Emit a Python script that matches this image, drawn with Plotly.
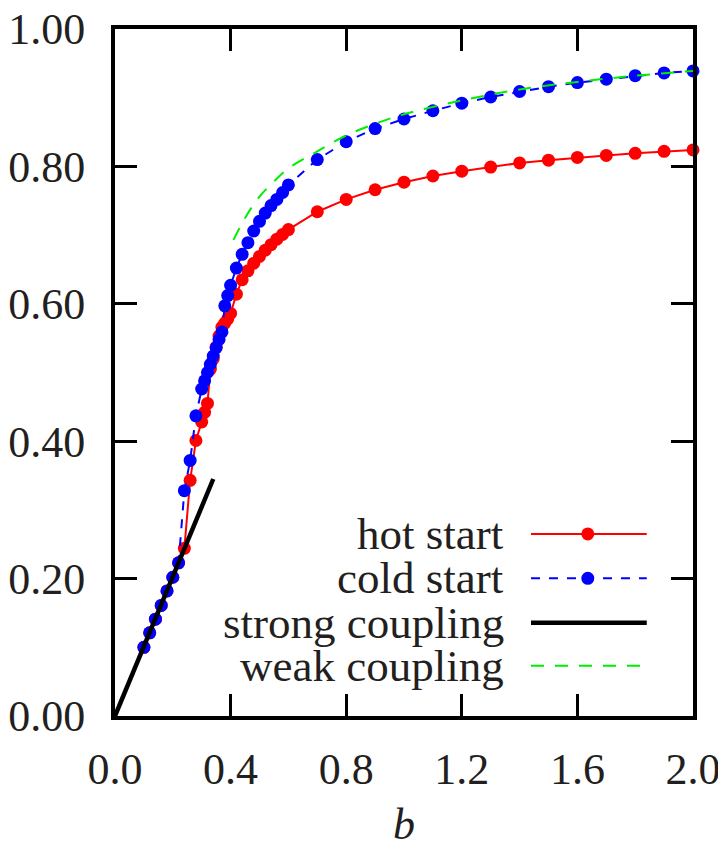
import plotly.graph_objects as go

# ---- data ----
hot_b = [0.10, 0.12, 0.14, 0.16, 0.18, 0.20, 0.22, 0.24, 0.26, 0.28, 0.30, 0.31, 0.32,
         0.33, 0.34, 0.35, 0.36, 0.37, 0.38, 0.39, 0.40, 0.42, 0.44, 0.46, 0.48, 0.50,
         0.52, 0.54, 0.56, 0.58, 0.60, 0.7, 0.8, 0.9, 1.0, 1.1, 1.2, 1.3, 1.4, 1.5,
         1.6, 1.7, 1.8, 1.9, 2.0]
hot_p = [0.100, 0.121, 0.141, 0.161, 0.182, 0.202, 0.223, 0.244, 0.343, 0.401, 0.428, 0.442, 0.455,
         0.505, 0.520, 0.537, 0.553, 0.566, 0.572, 0.578, 0.586, 0.614, 0.635, 0.648, 0.659, 0.669,
         0.678, 0.686, 0.694, 0.701, 0.708, 0.734, 0.752, 0.766, 0.777, 0.786, 0.793, 0.799, 0.805, 0.809,
         0.813, 0.816, 0.819, 0.822, 0.824]

cold_b = [0.10, 0.12, 0.14, 0.16, 0.18, 0.20, 0.22, 0.24, 0.26, 0.28, 0.30, 0.31, 0.32,
          0.33, 0.34, 0.35, 0.36, 0.37, 0.38, 0.39, 0.40, 0.42, 0.44, 0.46, 0.48, 0.50,
          0.52, 0.54, 0.56, 0.58, 0.60, 0.7, 0.8, 0.9, 1.0, 1.1, 1.2, 1.3, 1.4, 1.5,
          1.6, 1.7, 1.8, 1.9, 2.0]
cold_p = [0.100, 0.121, 0.141, 0.161, 0.182, 0.202, 0.223, 0.328, 0.372, 0.437, 0.476, 0.488, 0.500,
          0.512, 0.524, 0.536, 0.548, 0.559, 0.597, 0.612, 0.627, 0.652, 0.672, 0.689, 0.706, 0.720,
          0.732, 0.743, 0.752, 0.762, 0.773, 0.810, 0.836, 0.855, 0.869, 0.881, 0.892, 0.901, 0.909, 0.916,
          0.922, 0.927, 0.932, 0.936, 0.939]

strong_b = [0.0, 0.34]
strong_p = [0.0, 0.345]

weak_b = [0.41, 0.45, 0.50, 0.55, 0.60, 0.70, 0.80, 0.90, 1.0, 1.2, 1.4, 1.6, 1.8, 2.0]
weak_p = [0.693, 0.725, 0.756, 0.778, 0.797, 0.822, 0.845, 0.862, 0.876, 0.896, 0.912, 0.923, 0.932, 0.939]

x_ticks = [0.0, 0.4, 0.8, 1.2, 1.6, 2.0]
y_ticks = [0.0, 0.2, 0.4, 0.6, 0.8, 1.0]

legend_names = ["hot start", "cold start", "strong coupling", "weak coupling"]
x_title = "<i>b</i>"

RED = "#ff0000"
BLUE = "#0000ff"
BLACK = "#000000"
GREEN = "#00ee00"
TXT = "#231f20"
FONT = "Liberation Serif"

fig = go.Figure()
fig.add_trace(go.Scatter(x=hot_b, y=hot_p, mode="lines+markers", name=legend_names[0],
                         line=dict(color=RED, width=2),
                         marker=dict(color=RED, size=13), cliponaxis=False))
fig.add_trace(go.Scatter(x=cold_b, y=cold_p, mode="lines+markers", name=legend_names[1],
                         line=dict(color=BLUE, width=2, dash="9px,9px"),
                         marker=dict(color=BLUE, size=13), cliponaxis=False))
fig.add_trace(go.Scatter(x=strong_b, y=strong_p, mode="lines", name=legend_names[2],
                         line=dict(color=BLACK, width=4.5)))
fig.add_trace(go.Scatter(x=weak_b, y=weak_p, mode="lines", name=legend_names[3],
                         line=dict(color=GREEN, width=2, dash="13px,11px", shape="spline")))

# ---- manual legend (text right, sample on the right) ----
leg_y = [0.265, 0.2004, 0.1358, 0.0732]
lx0, lx1, lmark, ltext = 0.7197, 0.920, 0.818, 0.676
styles = [dict(color=RED, width=2), dict(color=BLUE, width=2, dash="9px,9px"),
          dict(color=BLACK, width=4.5), dict(color=GREEN, width=2, dash="13px,11px")]
shapes = []
annotations = []
for i, (name, yy, st) in enumerate(zip(legend_names, leg_y, styles)):
    shapes.append(dict(type="line", xref="paper", yref="paper", x0=lx0, x1=lx1, y0=yy, y1=yy, line=st))
    annotations.append(dict(xref="paper", yref="paper", x=ltext, y=yy, text=name, showarrow=False,
                            xanchor="right", yanchor="middle",
                            font=dict(family=FONT, size=45, color=TXT)))
for yy, col in [(leg_y[0], RED), (leg_y[1], BLUE)]:
    shapes.append(dict(type="circle", xref="paper", yref="paper", xsizemode="pixel", ysizemode="pixel",
                       xanchor=lmark, yanchor=yy, x0=-6.5, x1=6.5, y0=-6.5, y1=6.5,
                       fillcolor=col, line=dict(color=col, width=0)))

# x-axis title placed as an annotation below the tick labels
annotations.append(dict(xref="paper", yref="paper", x=0.5, y=0, text=x_title, showarrow=False,
                        xanchor="center", yanchor="middle", yshift=-108,
                        font=dict(family=FONT, size=44, color=TXT)))

fig.update_layout(
    width=710, height=838,
    margin=dict(l=107, r=25, t=21, b=130, autoexpand=False),
    paper_bgcolor="white", plot_bgcolor="white",
    showlegend=False,
    shapes=shapes, annotations=annotations,
    font=dict(family=FONT, color=TXT),
)
fig.update_xaxes(range=[0, 2.0], tickvals=x_ticks, tickformat=".1f", automargin=False,
                 ticklabeloverflow="allow",
                 showgrid=False, zeroline=False,
                 showline=True, linecolor=BLACK, linewidth=4, mirror="ticks",
                 ticks="inside", ticklen=22, tickwidth=3, tickcolor=BLACK,
                 tickfont=dict(family=FONT, size=44, color=TXT), ticklabelstandoff=11)
fig.update_yaxes(range=[0, 1.0], tickvals=y_ticks, tickformat=".2f", automargin=False,
                 ticklabeloverflow="allow",
                 showgrid=False, zeroline=False,
                 showline=True, linecolor=BLACK, linewidth=4, mirror="ticks",
                 ticks="inside", ticklen=22, tickwidth=3, tickcolor=BLACK,
                 tickfont=dict(family=FONT, size=44, color=TXT), ticklabelstandoff=17)

fig.write_html("out.html")
